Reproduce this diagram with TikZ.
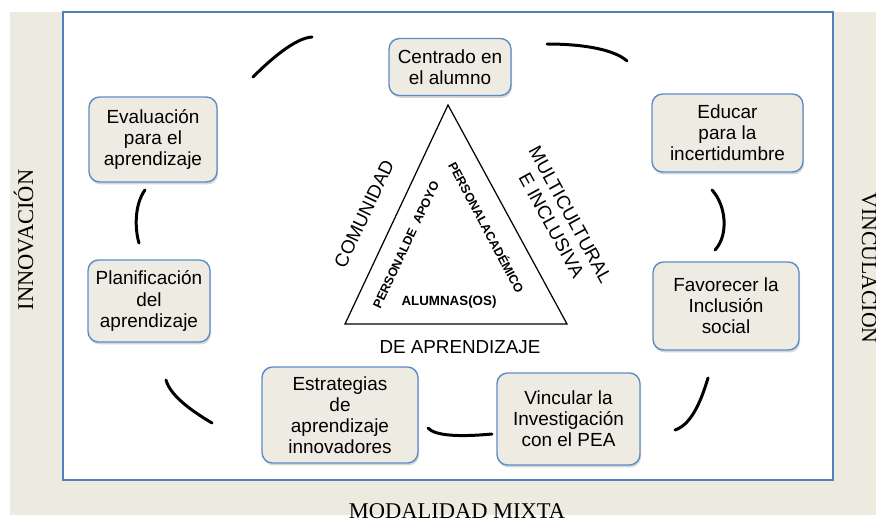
\documentclass[tikz,border=0pt]{standalone}
\usepackage{fontspec}
\setmainfont{Liberation Sans}
\newfontfamily\serifo{Liberation Serif}
\usetikzlibrary{shadows}

\definecolor{fondo}{RGB}{237,234,223}
\definecolor{relleno}{RGB}{238,236,226}
\definecolor{borde}{RGB}{92,140,200}
\definecolor{marco}{RGB}{79,129,189}

\tikzset{
  meta/.style={draw=borde, line width=0.8pt, fill=relleno, rounded corners=6pt,
    align=center, font=\fontsize{10.8}{12}\selectfont,
    drop shadow={shadow xshift=0.6pt, shadow yshift=-1.4pt, opacity=0.3}},
  arco/.style={line width=1.7pt, line cap=round},
  lado/.style={font=\fontsize{10.7}{12.3}\selectfont},
  interno/.style={font=\bfseries\fontsize{7.1}{8}\selectfont},
  eje/.style={font=\serifo\fontsize{12.8}{14}\selectfont}
}

\begin{document}
\begin{tikzpicture}[x=0.02cm, y=-0.02cm]

\useasboundingbox (0,0) rectangle (876,518);
\clip (0,0) rectangle (876,518);
\fill[fondo] (10,12) rectangle (876,515);
\draw[marco, fill=white, line width=1pt] (63,12) rectangle (833,480);

% recuadros
\node[meta, minimum width=2.44cm, minimum height=1.14cm] (centro) at (450,67) {Centrado en\\el alumno};
\node[meta, minimum width=3.02cm, minimum height=1.56cm] (educar) at (727.5,133) {Educar\\para la\\incertidumbre};
\node[meta, minimum width=2.92cm, minimum height=1.76cm] (favorecer) at (726,306) {Favorecer la\\Inclusión\\social};
\node[meta, minimum width=2.86cm, minimum height=1.84cm] (vincular) at (568.5,419) {Vincular la\\Investigación\\con el PEA};
\node[meta, minimum width=3.12cm, minimum height=1.92cm] (estrategias) at (340,415) {Estrategias\\de\\aprendizaje\\innovadores};
\node[meta, minimum width=2.44cm, minimum height=1.64cm] (planificacion) at (149,301) {Planificación\\del\\aprendizaje};
\node[meta, minimum width=2.56cm, minimum height=1.70cm] (evaluacion) at (153,139.5) {Evaluación\\para el\\aprendizaje};

% arcos
\coordinate (a1) at (253,77);  \coordinate (b1) at (312,37);
\coordinate (a2) at (547,44);  \coordinate (b2) at (627,61);
\coordinate (a3) at (712,190); \coordinate (b3) at (715,250);
\coordinate (a4) at (708,378); \coordinate (b4) at (675,430);
\coordinate (a5) at (492,434); \coordinate (b5) at (428,428);
\coordinate (a6) at (212,423); \coordinate (b6) at (166,380);
\coordinate (a7) at (139,243); \coordinate (b7) at (145,190);
\draw[arco] (a1) .. controls (270,60) and (295,38) .. (b1);
\draw[arco] (a2) .. controls (585,44) and (615,50) .. (b2);
\draw[arco] (a3) .. controls (726,205) and (729,235) .. (b3);
\draw[arco] (a4) .. controls (700,405) and (690,425) .. (b4);
\draw[arco] (a5) .. controls (460,437) and (435,436) .. (b5);
\draw[arco] (a6) .. controls (190,410) and (170,395) .. (b6);
\draw[arco] (a7) .. controls (135,230) and (134,205) .. (b7);

% triangulo
\coordinate (vA) at (448,105);
\coordinate (vB) at (345,324);
\coordinate (vC) at (567,324);
\draw[line width=0.7pt] (vA) -- (vB) -- (vC) -- cycle;

\node[lado, rotate=64.7] (comunidad) at (364,214) {COMUNIDAD};
\node[lado, rotate=-61.4, align=center] (multicultural) at (561,220) {MULTICULTURAL\\E INCLUSIVA};
\node[lado] (deaprendizaje) at (460,347) {DE APRENDIZAJE};
\node[interno, rotate=64.7] (apoyo) at (406,245) {PERSONALDE\ \ APOYO};
\node[interno, rotate=-62] (academico) at (487,227) {PERSONALACADÉMICO};
\node[interno, font=\bfseries\fontsize{7.6}{9}\selectfont] (alumnas) at (449,302) {ALUMNAS(OS)};

% ejes
\node[eje, rotate=90, anchor=base] (innovacion) at (33,240) {INNOVACIÓN};
\node[eje, rotate=-90, anchor=base, font=\serifo\fontsize{12.4}{14}\selectfont] (vinculacion) at (862,268) {VINCULACIÓN};
\node[eje, anchor=base] (modalidad) at (457,518.5) {MODALIDAD MIXTA};

\end{tikzpicture}
\end{document}
